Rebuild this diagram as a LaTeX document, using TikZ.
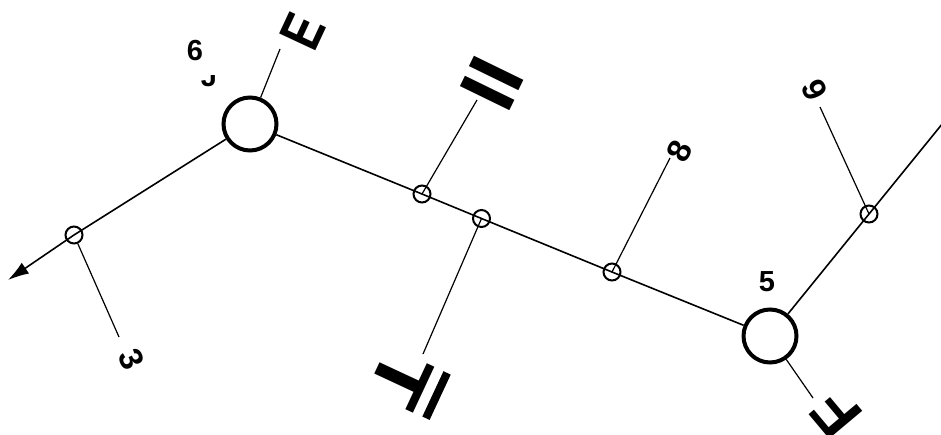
\documentclass[tikz,border=0pt]{standalone}
\usepackage{fontspec}
\setmainfont{Liberation Sans}
\newfontfamily\bsans{Liberation Sans Bold}
\usetikzlibrary{arrows.meta}
\begin{document}
\begin{tikzpicture}[x=1pt,y=-1pt,
  big/.style={circle,draw,line width=4pt,minimum size=53pt,inner sep=0pt,fill=white},
  small/.style={circle,draw,line width=2pt,minimum size=17pt,inner sep=0pt},
  mainline/.style={line width=1.6pt},
  branch/.style={line width=1.2pt},
  lbl/.style={inner sep=0pt,outer sep=0pt},
  digit/.style={lbl,font=\bsans\fontsize{29}{29}\selectfont},
  rdigit/.style={lbl,font=\bsans\fontsize{33}{33}\selectfont},
  bigtxt/.style={lbl,font=\bsans\fontsize{#1}{#1}\selectfont}
]
\useasboundingbox (0,0) rectangle (941,434);
% main nodes
\node[big] (A) at (250,124) {};
\node[big] (B) at (770,336) {};
\node[small] (s0) at (74,235) {};
\node[small] (s1) at (422,194) {};
\node[small] (s2) at (481.5,218.5) {};
\node[small] (s3) at (612,272) {};
\node[small] (s4) at (869,214) {};
% free ends
\coordinate (tip) at (8,280);
\coordinate (rEnd) at (960,102);
\coordinate (cE) at (280,49);
\coordinate (cII) at (477,100);
\coordinate (cT) at (423,354);
\coordinate (c8) at (670,158);
\coordinate (c3) at (119,337);
\coordinate (c9) at (820,107);
\coordinate (cF) at (813,398);
% main lines
\draw[mainline] (A) -- (s1.center) -- (s2.center) -- (s3.center) -- (B);
\draw[mainline,-{Latex[length=21pt,width=13pt]}] (A) -- (s0.center) -- (tip);
\draw[mainline] (B) -- (s4.center) -- (rEnd);
% branches
\draw[branch] (A) -- (cE);
\draw[branch] (s1.center) -- (cII);
\draw[branch] (s2.center) -- (cT);
\draw[branch] (s3.center) -- (c8);
\draw[branch] (s0) -- (c3);
\draw[branch] (s4.center) -- (c9);
\draw[branch] (B) -- (cF);
% labels
\node[digit] (l6) at (195,51) {6};
\node[digit] (l5) at (767,282) {5};
\begin{scope}
  \clip (195,75) rectangle (225,95);
  \node[digit] (lJ) at (209,77) {J};
\end{scope}
\node[bigtxt=58,rotate=65] (lE) at (303,31) {\scalebox{0.78}[1]{E}};
\node[bigtxt=80,rotate=64] (lII) at (492,83) {II};
\node[bigtxt=75,rotate=-115] (lT) at (401,379)
  {\setbox0\hbox{\scalebox{1.15}[1]{T}}\rlap{\makebox[\wd0][c]{\raisebox{61pt}[0pt][0pt]{\rule{50pt}{8pt}}}}\box0};
\node[rdigit,rotate=63] (l8) at (680,151) {8};
\node[rdigit,rotate=-66] (l3) at (132,359) {3};
\node[rdigit,rotate=-65] (l9) at (815,90) {9};
\node[bigtxt=63,rotate=130] (lF) at (837,414) {F};
\end{tikzpicture}
\end{document}
